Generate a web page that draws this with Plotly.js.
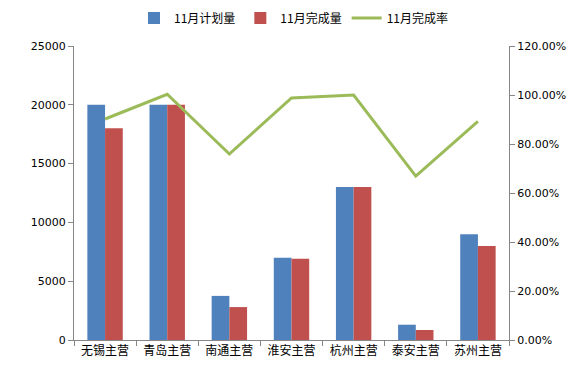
<!DOCTYPE html>
<html>
<head>
<meta charset="utf-8">
<script src="https://cdn.plot.ly/plotly-3.0.1.min.js"></script>
<style>html,body{margin:0;padding:0;background:#fff;}#chart{width:587px;height:373px;}</style>
</head>
<body>
<div id="chart"></div>
<script>
var categories = ["无锡主营", "青岛主营", "南通主营", "淮安主营", "杭州主营", "泰安主营", "苏州主营"];
var planned = [20000, 20000, 3750, 7000, 13000, 1300, 9000];
var completed = [18000, 20000, 2800, 6900, 13000, 850, 8000];
var rate = [0.902, 1.003, 0.759, 0.988, 1.0, 0.669, 0.892];
var seriesNames = ["11月计划量", "11月完成量", "11月完成率"];

var cjk = '"Noto Sans CJK SC", "Noto Sans", sans-serif';
var axisColor = '#868686';

var traces = [
  {type: 'bar', name: seriesNames[0], x: categories, y: planned, marker: {color: '#4F81BD'}},
  {type: 'bar', name: seriesNames[1], x: categories, y: completed, marker: {color: '#C0504D'}},
  {type: 'scatter', mode: 'lines', name: seriesNames[2], x: categories, y: rate, yaxis: 'y2',
   line: {color: '#9BBB59', width: 3}}
];

var layout = {
  width: 587, height: 373,
  margin: {l: 74, r: 78, t: 46, b: 33, autoexpand: false},
  paper_bgcolor: '#fff', plot_bgcolor: '#fff',
  font: {family: cjk, size: 11, color: '#000'},
  barmode: 'group',
  bargap: 0.43,
  bargroupgap: 0,
  showlegend: true,
  legend: {orientation: 'h', x: 0.5, xref: 'container', xanchor: 'center',
           y: 0.952, yref: 'container', yanchor: 'middle',
           font: {family: cjk, size: 12}, traceorder: 'normal', itemwidth: 30},
  xaxis: {
    type: 'category', showline: true, linecolor: axisColor, linewidth: 1,
    ticks: 'outside', tickson: 'boundaries', ticklen: 5, tickcolor: axisColor,
    showgrid: false, zeroline: false, tickfont: {family: cjk, size: 12}
  },
  yaxis: {
    range: [0, 25000], dtick: 5000, tickformat: 'd', showline: true, linecolor: axisColor,
    ticks: 'outside', ticklen: 5, tickcolor: axisColor, showgrid: false, zeroline: false,
    tickfont: {family: 'DejaVu Sans, sans-serif', size: 11}
  },
  yaxis2: {
    overlaying: 'y', side: 'right', range: [0, 1.2], dtick: 0.2, tickformat: '.2%',
    showline: true, linecolor: axisColor, ticks: 'outside', ticklen: 5, tickcolor: axisColor,
    showgrid: false, zeroline: false, tickfont: {family: 'DejaVu Sans, sans-serif', size: 11}
  }
};

Plotly.newPlot('chart', traces, layout, {displayModeBar: false, staticPlot: true});
</script>
</body>
</html>
